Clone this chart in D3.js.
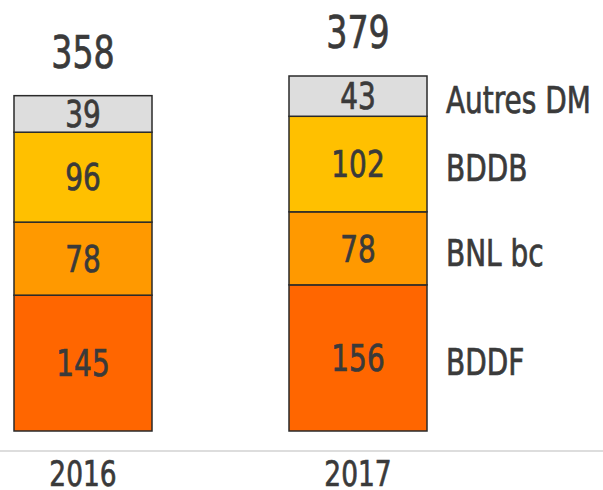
<!DOCTYPE html>
<html>
<head>
<meta charset="utf-8">
<script src="https://cdn.jsdelivr.net/npm/d3@7"></script>
<style>
body { margin: 0; background: #fff; }
text { font-family: "DejaVu Sans Condensed", "DejaVu Sans", sans-serif; font-stretch: condensed; fill: #3a3a3a; stroke: #3a3a3a; stroke-width: 0.7; }
</style>
</head>
<body>
<script>
var years = ["2016", "2017"];
var segments = ["BDDF", "BNL bc", "BDDB", "Autres DM"];
var colors = ["#FF6600", "#FF9900", "#FFC000", "#DDDDDD"];
var values2016 = [145, 78, 96, 39];
var values2017 = [156, 78, 102, 43];
var totals = [358, 379];

var w = 603, h = 490;
var sx = 0.84; // squeeze text to look like a narrow font

var svg = d3.select("body")
	.append("svg")
	.attr("width", w)
	.attr("height", h);

var rows = years.map(function(y, i) {
	var r = { year: y };
	var vals = i == 0 ? values2016 : values2017;
	segments.forEach(function(s, j) { r[s] = vals[j]; });
	return r;
});

var stack = d3.stack().keys(segments)(rows);

// bars are 138 wide, 2016 centred at 83, 2017 at 358
var x = d3.scalePoint().domain(years).range([83, 358]);
var bw = 138;

var y = d3.scaleLinear()
	.domain([0, 379])
	.range([431, 76]);

var color = d3.scaleOrdinal().domain(segments).range(colors);

function place(px, py) {
	return "translate(" + px + "," + py + ") scale(" + sx + ",1)";
}

// baseline
svg.append("line")
	.attr("x1", 0).attr("x2", w)
	.attr("y1", 451).attr("y2", 451)
	.attr("stroke", "#dddddd")
	.attr("stroke-width", 2);

var groups = svg.selectAll("g.layer")
	.data(stack)
	.enter()
	.append("g")
	.attr("class", "layer")
	.attr("fill", function(d) { return color(d.key); });

groups.selectAll("rect")
	.data(function(d) { return d; })
	.enter()
	.append("rect")
	.attr("x", function(d) { return x(d.data.year) - bw / 2; })
	.attr("y", function(d) { return y(d[1]); })
	.attr("width", bw)
	.attr("height", function(d) { return y(d[0]) - y(d[1]); })
	.attr("stroke", "#2a2a2a")
	.attr("stroke-width", 1.5);

groups.selectAll("text")
	.data(function(d) { return d; })
	.enter()
	.append("text")
	.attr("transform", function(d) { return place(x(d.data.year), (y(d[0]) + y(d[1])) / 2); })
	.attr("dy", "0.36em")
	.attr("text-anchor", "middle")
	.attr("font-size", 37)
	.text(function(d) { return d[1] - d[0]; });

// totals
svg.selectAll("text.total")
	.data(totals)
	.enter()
	.append("text")
	.attr("class", "total")
	.attr("transform", function(d, i) { return place(x(years[i]), y(d) - 28); })
	.attr("text-anchor", "middle")
	.attr("font-size", 44)
	.text(function(d) { return d; });

// legend next to 2017 bar
var last = stack.map(function(s) { return s[1]; });
svg.selectAll("text.legend")
	.data(last)
	.enter()
	.append("text")
	.attr("class", "legend")
	.attr("transform", function(d) { return place(446, (y(d[0]) + y(d[1])) / 2 + 4); })
	.attr("dy", "0.36em")
	.attr("font-size", 37)
	.text(function(d, i) { return segments[i]; });

// years
svg.selectAll("text.year")
	.data(years)
	.enter()
	.append("text")
	.attr("class", "year")
	.attr("transform", function(d) { return place(x(d), 486); })
	.attr("text-anchor", "middle")
	.attr("font-size", 35)
	.text(function(d) { return d; });
</script>
</body>
</html>
